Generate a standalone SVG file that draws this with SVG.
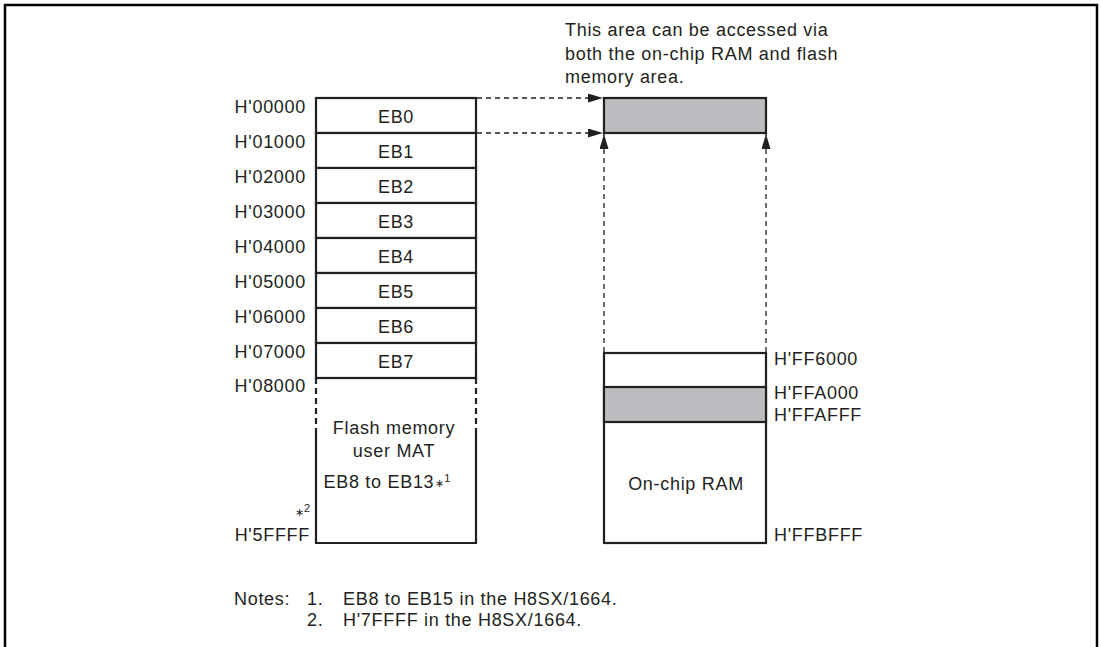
<svg xmlns="http://www.w3.org/2000/svg" width="1102" height="647" viewBox="0 0 1102 647">
<style>
text{font-family:"Liberation Sans",Arial,sans-serif;font-size:18px;letter-spacing:0.7px;fill:#231f20}
.c{text-anchor:middle}
.r{text-anchor:end}
.box{fill:#fff;stroke:#231f20;stroke-width:2.2}
.shade{fill:#bcbdc0;stroke:#231f20;stroke-width:2.2}
.dash{fill:none;stroke:#231f20;stroke-width:1.3;stroke-dasharray:5,4}
.sup{font-size:11px;letter-spacing:0}
</style>
<defs>
<marker id="ah" markerWidth="15" markerHeight="9" refX="15" refY="4.5" orient="auto" markerUnits="userSpaceOnUse">
<path d="M0,0 L15,4.5 L0,9 Z" fill="#231f20"/>
</marker>
</defs>
<rect x="0" y="0" width="1102" height="647" fill="#fff"/>
<path d="M5,660 L5,5 L1097,5 L1097,660" fill="none" stroke="#000" stroke-width="2.5"/>

<g id="note-top">
<text x="565" y="36">This area can be accessed via</text>
<text x="565" y="60">both the on-chip RAM and flash</text>
<text x="565" y="83">memory area.</text>
</g>

<g id="flash">
<rect class="box" x="316" y="98" width="160" height="35"/>
<rect class="box" x="316" y="133" width="160" height="35"/>
<rect class="box" x="316" y="168" width="160" height="35"/>
<rect class="box" x="316" y="203" width="160" height="35"/>
<rect class="box" x="316" y="238" width="160" height="35"/>
<rect class="box" x="316" y="273" width="160" height="35"/>
<rect class="box" x="316" y="308" width="160" height="35"/>
<rect class="box" x="316" y="343" width="160" height="35"/>
<path d="M316,430 L316,543 L476,543 L476,430" fill="none" stroke="#231f20" stroke-width="2.2"/>
<path d="M316,378 L316,430 M476,378 L476,430" fill="none" stroke="#231f20" stroke-width="2.2" stroke-dasharray="6,4"/>
<text class="c" x="396" y="123">EB0</text>
<text class="c" x="396" y="158">EB1</text>
<text class="c" x="396" y="193">EB2</text>
<text class="c" x="396" y="228">EB3</text>
<text class="c" x="396" y="263">EB4</text>
<text class="c" x="396" y="298">EB5</text>
<text class="c" x="396" y="333">EB6</text>
<text class="c" x="396" y="368">EB7</text>
<text class="c" x="394" y="434">Flash memory</text>
<text class="c" x="394" y="457">user MAT</text>
<text class="c" x="387" y="488">EB8 to EB13<tspan class="sup" dx="1" dy="-1">∗</tspan><tspan class="sup" dy="-5">1</tspan></text>
</g>

<g id="flash-addr">
<text class="r" x="306" y="113">H'00000</text>
<text class="r" x="306" y="148">H'01000</text>
<text class="r" x="306" y="183">H'02000</text>
<text class="r" x="306" y="218">H'03000</text>
<text class="r" x="306" y="253">H'04000</text>
<text class="r" x="306" y="288">H'05000</text>
<text class="r" x="306" y="323">H'06000</text>
<text class="r" x="306" y="358">H'07000</text>
<text class="r" x="306" y="392">H'08000</text>
<text class="r" x="310" y="516"><tspan class="sup">∗</tspan><tspan class="sup" dy="-4">2</tspan></text>
<text class="r" x="310" y="541">H'5FFFF</text>
</g>

<g id="shared">
<rect class="shade" x="604" y="98" width="162" height="35"/>
</g>

<g id="ram">
<rect class="box" x="604" y="353" width="162" height="190"/>
<rect class="shade" x="604" y="387" width="162" height="35"/>
<text class="c" x="686" y="490">On-chip RAM</text>
<text x="774" y="365">H'FF6000</text>
<text x="774" y="399">H'FFA000</text>
<text x="774" y="421">H'FFAFFF</text>
<text x="774" y="541">H'FFBFFF</text>
</g>

<g id="connectors">
<path class="dash" d="M477,98 L603,98" marker-end="url(#ah)"/>
<path class="dash" d="M477,133 L603,133" marker-end="url(#ah)"/>
<path class="dash" d="M604,352 L604,134" marker-end="url(#ah)"/>
<path class="dash" d="M766,352 L766,134" marker-end="url(#ah)"/>
</g>

<g id="notes">
<text x="234" y="605">Notes:</text>
<text x="307" y="605">1.</text>
<text x="343" y="605">EB8 to EB15 in the H8SX/1664.</text>
<text x="307" y="626">2.</text>
<text x="343" y="626">H'7FFFF in the H8SX/1664.</text>
</g>
</svg>
